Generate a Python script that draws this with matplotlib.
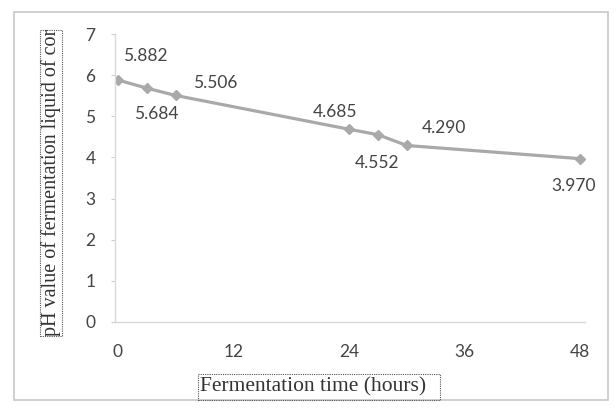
import matplotlib
matplotlib.use("Agg")
import matplotlib.pyplot as plt
from matplotlib.patches import Rectangle
from matplotlib.transforms import Bbox

# data
hours = [0, 3, 6, 24, 27, 30, 48]
ph_values = [5.882, 5.684, 5.506, 4.685, 4.552, 4.290, 3.970]
value_labels = ["5.882", "5.684", "5.506", "4.685", "4.552", "4.290", "3.970"]
# label offsets in pixels (dx, dy up)
label_offsets = [(27, 24), (9, -26), (40, 12), (-14, 17), (-1, -28), (37, 17), (-7, -27)]
x_ticks = [0, 12, 24, 36, 48]
y_ticks = [0, 1, 2, 3, 4, 5, 6, 7]

W, H = 616, 413
fig = plt.figure(figsize=(W / 100, H / 100), dpi=100)

# outer chart border
fig.patches.append(Rectangle((14 / W, 1 - 400 / H), (608 - 14) / W, (400 - 12) / H,
                             transform=fig.transFigure, fill=False,
                             edgecolor="#c8c8c8", linewidth=1.2))

ax = fig.add_axes([115 / W, 1 - 322 / H, (585 - 115) / W, (322 - 34) / H])
ax.plot(hours, ph_values, color="#a9a9a9", linewidth=2.3, marker="D",
        markersize=5.5, markerfacecolor="#a9a9a9", markeredgecolor="#a9a9a9")

for x, y, txt, (dx, dy) in zip(hours, ph_values, value_labels, label_offsets):
    ax.annotate(txt, (x, y), xytext=(dx * 0.72, dy * 0.72), textcoords="offset points",
                ha="center", va="center", fontsize=12.5, color="#444444",
                family="Lato")

ax.set_xlim(-0.3, 48.5)
ax.set_ylim(0, 7)
ax.set_xticks(x_ticks)
ax.set_yticks(y_ticks)
ax.tick_params(labelsize=12.5, labelcolor="#444444", color="#cfcfcf", length=3)
for lab in ax.get_xticklabels() + ax.get_yticklabels():
    lab.set_family("Lato")
ax.tick_params(axis="x", pad=16, length=0)
ax.tick_params(axis="y", pad=11)
for side in ["top", "right"]:
    ax.spines[side].set_visible(False)
for side in ["left", "bottom"]:
    ax.spines[side].set_color("#d9d9d9")
    ax.spines[side].set_linewidth(1.0)

# y axis title, clipped like the original text box
yt = fig.text(51 / W, 1 - 336 / H, "pH value of fermentation liquid of corn",
              rotation=90, ha="center", va="bottom", fontsize=14.5,
              family="Liberation Serif", color="#333333")
yt.set_clip_box(Bbox.from_extents(40, H - 336, 63, H - 30))
yt.set_clip_on(True)
fig.patches.append(Rectangle((40 / W, 1 - 336 / H), 22 / W, (336 - 30) / H,
                             transform=fig.transFigure, fill=False,
                             edgecolor="#555555", linewidth=0.8, linestyle=(0, (1, 1))))

# x axis title
fig.text(200 / W, 1 - 387 / H, "Fermentation time (hours)", ha="left", va="center",
         fontsize=15.5, family="Liberation Serif", color="#333333")
fig.patches.append(Rectangle((198 / W, 1 - 400 / H), (440 - 198) / W, 26 / H,
                             transform=fig.transFigure, fill=False,
                             edgecolor="#555555", linewidth=0.8, linestyle=(0, (1, 1))))

fig.savefig("out.png", dpi=100)
